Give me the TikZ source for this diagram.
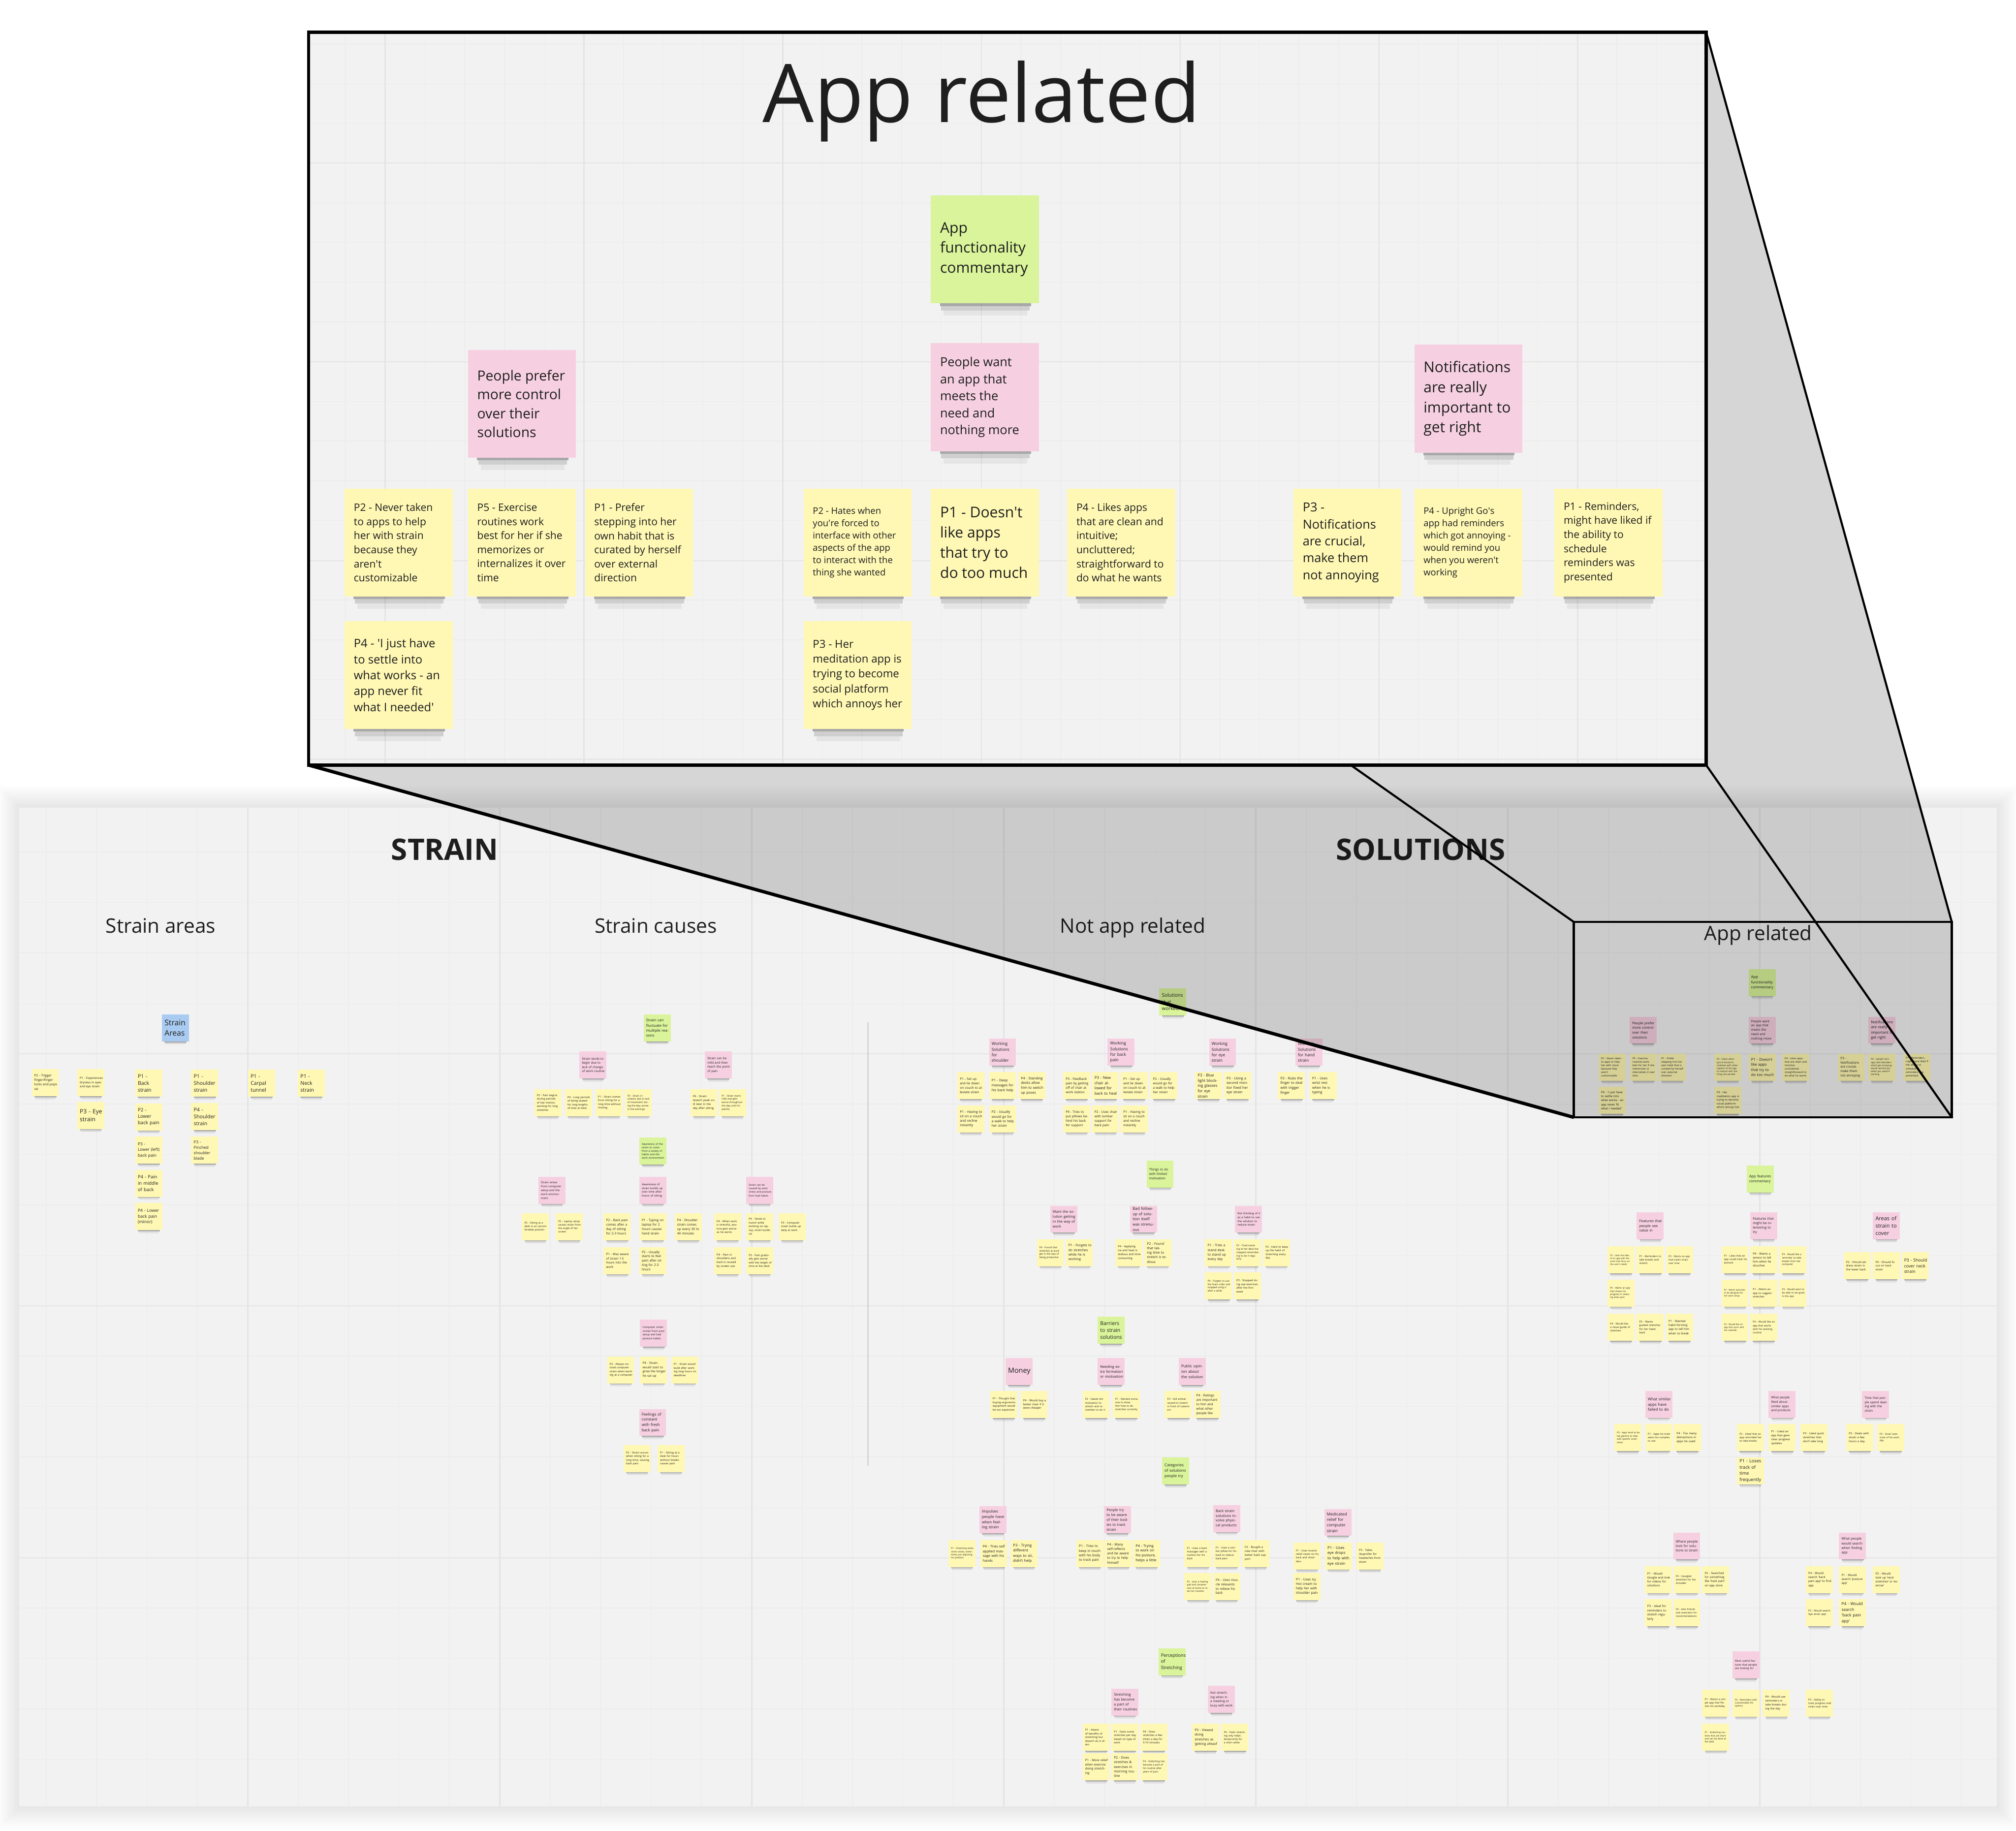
\documentclass[tikz,border=0pt]{standalone}
\usepackage{fontspec}
\setmainfont{Open Sans}
\definecolor{bgc}{HTML}{F2F2F2}
\definecolor{gmin}{HTML}{ECECEC}
\definecolor{gmaj}{HTML}{E4E4E4}
\definecolor{ink}{HTML}{1E1E1E}
\definecolor{yel}{HTML}{FFF8B4}
\definecolor{pnk}{HTML}{F6D0E0}
\definecolor{grn}{HTML}{D9F49A}
\definecolor{skyb}{HTML}{A9CBF2}
\newcommand\fszz[1]{\fontsize{#1}{\fpeval{1.36*#1}}\selectfont}
\newcommand\sq{\textquotesingle}
\tikzset{
  bnote/.style={rectangle, inner sep=0pt, minimum width=21pt, minimum height=21pt, draw=none},
  btext/.style={anchor=west, inner sep=0pt, text width=18pt, align=left, text=ink},
  pnote/.style={rectangle, inner sep=0pt, minimum width=84pt, minimum height=84pt, draw=none},
  ptext/.style={anchor=west, inner sep=0pt, align=left, text=ink},
  gminor/.style={draw=gmin, line width=0.6pt},
  gmajor/.style={draw=gmaj, line width=0.9pt},
  zthick/.style={draw=black, line width=2.6pt},
  zthin/.style={draw=black, line width=1.6pt},
  shA/.style={fill=black, fill opacity=0.30},
  shB/.style={fill=black, fill opacity=0.14},
  shC/.style={fill=black, fill opacity=0.05},
  headbold/.style={font=\fontsize{23}{26}\selectfont\bfseries, text=ink, anchor=base, inner sep=0pt},
  headreg/.style={font=\fontsize{15.5}{18}\selectfont, text=ink, anchor=base, inner sep=0pt},
}
% board sticky: name, x, y (top-left), colour, font size, text
\newcommand\bsk[6]{%
  \fill[shA] ({#2+2},{#3+20.5}) rectangle ({#2+19.2},{#3+21.6});
  \fill[shB] ({#2+2.4},{#3+21.6}) rectangle ({#2+18.8},{#3+22.5});
  \fill[shC] ({#2+3},{#3+22.5}) rectangle ({#2+18.2},{#3+23.5});
  \node[bnote,fill=#4] (#1) at ({#2+10.5},{#3+10.5}) {};
  \node[btext,font=\fszz{#5}] (#1t) at ({#2+1.8},{#3+10.5}) {#6};
}
% panel sticky
\newcommand\psk[6]{%
  \fill[shA] ({#2+7},{#3+82}) rectangle ({#2+78},{#3+86});
  \fill[shB] ({#2+8},{#3+86}) rectangle ({#2+77},{#3+89.5});
  \fill[shC] ({#2+10},{#3+89.5}) rectangle ({#2+75},{#3+93.5});
  \node[pnote,fill=#4] (#1) at ({#2+42},{#3+42}) {};
  \node[ptext,font=\fszz{#5}] (#1t) at ({#2+7},{#3+42}) {#6};
}
\begin{document}
\begin{tikzpicture}[x=1pt,y=-1pt]
\useasboundingbox (0,0) rectangle (1568,1424);
\fill[white] (0,0) rectangle (1568,1424);

% ---------------- board ----------------
\foreach \k in {1,...,12} {
  \fill[black, opacity=0.007] ({15-1.4*\k},{628-1.4*\k}) rectangle ({1553+1.4*\k},{1405+1.4*\k});
}
\fill[bgc] (15,628) rectangle (1553,1405);
\begin{scope}
  \clip (15,628) rectangle (1553,1405);
  \foreach \i in {0,...,38} { \draw[gminor] ({35.9+39.2*\i},628) -- ({35.9+39.2*\i},1405); }
  \foreach \i in {0,...,18} { \draw[gminor] (15,{662.7+39.2*\i}) -- (1553,{662.7+39.2*\i}); }
  \foreach \i in {0,...,6} { \draw[gmajor] ({192.7+196*\i},628) -- ({192.7+196*\i},1405); }
  \foreach \i in {0,...,2} { \draw[gmajor] (15,{819.5+196*\i}) -- (1553,{819.5+196*\i}); }
\end{scope}

\node[headbold] (hstrain) at (346,669) {STRAIN};
\node[headbold] (hsol) at (1105,669) {SOLUTIONS};
\node[headreg] (lareas) at (125,725.5) {Strain areas};
\node[headreg] (lcauses) at (510,725.5) {Strain causes};
\node[headreg] (lnotapp) at (881,725.5) {Not app related};
\node[headreg] (lapp) at (1367.5,731.5) {App related};

\coordinate (divA) at (675,795);
\coordinate (divB) at (675,1140);
\draw[gray!75, line width=0.6pt] (divA) -- (divB);

% strain areas
\bsk{sa0}{126}{789}{skyb}{6.0}{Strain\\Areas}
\bsk{sa1}{24.7}{831.5}{yel}{2.5}{P2 - Trigger finger/finger locks and pops up}
\bsk{sa2}{60.1}{831.5}{yel}{2.3}{P1 - Experiences dryness in eyes and eye strain}
\bsk{sa3}{60.1}{857}{yel}{4.6}{P3 - Eye\\strain}
\bsk{sa4}{105.2}{832}{yel}{4.0}{P1 -\\Back\\strain}
\bsk{sa5}{105.2}{858.2}{yel}{3.7}{P2 -\\Lower\\back pain}
\bsk{sa6}{105.2}{884}{yel}{3.2}{P3 -\\Lower (left)\\back pain}
\bsk{sa7}{105.2}{909.8}{yel}{3.6}{P4 - Pain\\in middle\\of back}
\bsk{sa8}{105.2}{935.7}{yel}{3.3}{P4 - Lower\\back pain\\(minor)}
\bsk{sa9}{148.7}{832}{yel}{4.0}{P1 -\\Shoulder\\strain}
\bsk{sa10}{148.7}{858}{yel}{4.0}{P4 -\\Shoulder\\strain}
\bsk{sa11}{148.7}{884}{yel}{3.1}{P3 -\\Pinched\\shoulder\\blade}
\bsk{sa12}{193}{832}{yel}{4.0}{P1 -\\Carpal\\tunnel}
\bsk{sa13}{231.7}{832}{yel}{4.0}{P1 -\\Neck\\strain}

% strain causes
\bsk{sc0}{500.6}{789}{grn}{2.9}{Strain can fluctuate for multiple reasons}
\bsk{sc1}{450.7}{817.8}{pnk}{2.4}{Strain tends to begin due to lack of change of work routine}
\bsk{sc2}{548.2}{817.8}{pnk}{2.4}{Strain can be mild and then reach the point of pain}
\bsk{sc3}{415.6}{847.1}{yel}{2.1}{P2 - Pain begins during periods of low motion, working for long stretches}
\bsk{sc4}{439.4}{847.1}{yel}{2.1}{P4 - Long periods of being seated for long lengths of time at desk}
\bsk{sc5}{463.2}{847.1}{yel}{2.1}{P1 - Strain comes from sitting for a long time without moving}
\bsk{sc6}{486}{847.1}{yel}{1.9}{P3 - Strain increases due to lack of movement during the day, worse in the evenings}
\bsk{sc7}{536.9}{847.1}{yel}{2.2}{P4 - Strain doesn't peak until later in the day after sitting}
\bsk{sc8}{559.3}{847.1}{yel}{1.9}{P1 - Strain starts mild and gets worse throughout the day until it's painful}
\bsk{sc9}{497.2}{884.7}{grn}{2.0}{Awareness of the strain to come from a variety of habits and the work environment}
\bsk{sc10}{418.8}{915.3}{pnk}{2.2}{Strain arises from computer setup and the work environment}
\bsk{sc11}{497.2}{915.3}{pnk}{2.2}{Awareness of strain builds up over time after hours of sitting}
\bsk{sc12}{580.4}{915.3}{pnk}{2.0}{Strain can be caused by work stress and posture from bad habits}
\bsk{sc13}{405.9}{943.6}{yel}{2.0}{P3 - Sitting at a desk in an uncomfortable position}
\bsk{sc14}{432.2}{943.6}{yel}{2.0}{P2 - Laptop setup causes strain from the angle of her screen}
\bsk{sc15}{469.5}{943.6}{yel}{2.5}{P2 - Back pain comes after a day of sitting for 2-3 hours}
\bsk{sc16}{497.2}{943.6}{yel}{2.5}{P1 - Typing on laptop for 2 hours causes hand strain}
\bsk{sc17}{524.7}{943.6}{yel}{2.5}{P4 - Shoulder strain comes up every 30 to 40 minutes}
\bsk{sc18}{555.4}{943.6}{yel}{2.1}{P4 - When work is stressful, posture gets worse as he works}
\bsk{sc19}{580.4}{943.6}{yel}{2.1}{P4 - Tends to hunch while working on laptop, strain builds up}
\bsk{sc20}{605.5}{943.6}{yel}{2.1}{P3 - Computer strain builds up daily at work}
\bsk{sc21}{469.5}{970}{yel}{2.4}{P1 - Was aware of strain 1-5 hours into the work}
\bsk{sc22}{497.2}{970}{yel}{2.5}{P2 - Usually starts to feel pain after sitting for 2-3 hours}
\bsk{sc23}{555.4}{970}{yel}{2.2}{P4 - Pain in shoulders and back is caused by screen use}
\bsk{sc24}{580.4}{970}{yel}{2.1}{P3 - Pain gradually gets worse with the length of time at the desk}
\bsk{sc25}{497.8}{1026.4}{pnk}{2.1}{Computer strain comes from poor setup and bad posture habits}
\bsk{sc26}{472.2}{1054.9}{yel}{2.1}{P3 - Always noticed computer strain when working at a computer}
\bsk{sc27}{497.8}{1054.9}{yel}{2.4}{P4 - Strain would start to grow the longer he sat up}
\bsk{sc28}{522}{1054.9}{yel}{2.1}{P1 - Strain would build after working long hours on deadlines}
\bsk{sc29}{497.1}{1095.8}{pnk}{3.0}{Feelings of constant with fresh back pain}
\bsk{sc30}{485}{1123.9}{yel}{2.1}{P2 - Strain occurs when sitting for a long time, causing back pain}
\bsk{sc31}{511.4}{1123.9}{yel}{2.1}{P1 - Sitting at a desk for hours without breaks causes pain}

% not app related
\bsk{na0}{901.7}{768.8}{grn}{3.8}{Solutions\\that\\worked}
\bsk{na1}{769.3}{807.8}{pnk}{3.2}{Working\\Solutions\\for\\shoulder}
\bsk{na2}{861.5}{807.8}{pnk}{3.2}{Working\\Solutions\\for back\\pain}
\bsk{na3}{940.4}{807.8}{pnk}{3.2}{Working\\Solutions\\for eye\\strain}
\bsk{na4}{1007.5}{807.8}{pnk}{3.2}{Working\\Solutions\\for hand\\strain}
\bsk{na5}{744.6}{833.9}{yel}{2.5}{P1 - Set up and lie down on couch to alleviate strain}
\bsk{na6}{769.3}{833.9}{yel}{2.7}{P1 - Deep massages for his back help}
\bsk{na7}{792.1}{833.9}{yel}{2.7}{P4 - Standing desks allow him to switch up poses}
\bsk{na8}{826.9}{833.9}{yel}{2.5}{P3 - Feedback pain by getting off of chair at work station}
\bsk{na9}{849.3}{833.9}{yel}{3.0}{P3 - New chair allowed for back to heal}
\bsk{na10}{871.7}{833.9}{yel}{2.5}{P1 - Set up and lie down on couch to alleviate strain}
\bsk{na11}{894.8}{833.9}{yel}{2.5}{P2 - Usually would go for a walk to help her strain}
\bsk{na12}{929.5}{833.9}{yel}{3.0}{P3 - Blue light blocking glasses for eye strain}
\bsk{na13}{952}{833.9}{yel}{2.7}{P3 - Using a second monitor fixed her eye strain}
\bsk{na14}{993.9}{833.9}{yel}{2.7}{P2 - Rubs the finger to deal with trigger finger}
\bsk{na15}{1018.6}{833.9}{yel}{2.7}{P1 - Uses wrist rest when he is typing}
\bsk{na16}{744.6}{859.7}{yel}{2.6}{P1 - Having to sit on a couch and recline instantly}
\bsk{na17}{769.3}{859.7}{yel}{2.6}{P2 - Usually would go for a walk to help her strain}
\bsk{na18}{826.9}{859.7}{yel}{2.5}{P4 - Tries to put pillows behind his back for support}
\bsk{na19}{849.3}{859.7}{yel}{2.5}{P2 - Uses chair with lumbar support for back pain}
\bsk{na20}{871.7}{859.7}{yel}{2.5}{P1 - Having to sit on a couch and recline instantly}
\bsk{na21}{891.8}{902.6}{grn}{2.5}{Things to do with limited motivation}
\bsk{na22}{816.8}{937.7}{pnk}{2.8}{Want the solution getting in the way of work}
\bsk{na23}{879}{937.7}{pnk}{3.0}{Bad follow-up of solution itself was strenuous}
\bsk{na24}{960.5}{937.7}{pnk}{2.2}{Not thinking of it as a habit to use the solution to reduce strain}
\bsk{na25}{806.4}{963.8}{yel}{1.9}{P4 - Found that stretches at work get in the way of being productive}
\bsk{na26}{829}{963.8}{yel}{2.6}{P1 - Forgets to do stretches while he is working}
\bsk{na27}{867.5}{963.8}{yel}{2.2}{P4 - Applying ice and heat is tedious and time consuming}
\bsk{na28}{890.1}{963.8}{yel}{2.6}{P2 - Found that taking time to stretch is tedious}
\bsk{na29}{937.3}{963.8}{yel}{2.6}{P1 - Tries a stand desk to stand up every day}
\bsk{na30}{959.7}{963.8}{yel}{1.9}{P2 - Tried standing at her desk but stopped remembering to do it regularly}
\bsk{na31}{982.3}{963.8}{yel}{2.1}{P2 - Hard to keep up the habit of stretching every day}
\bsk{na32}{937.3}{989.7}{yel}{1.9}{P4 - Forgets to use the foam roller and stopped using it after a while}
\bsk{na33}{959.7}{989.7}{yel}{2.1}{P3 - Stopped doing eye exercises after the first week}
\bsk{na34}{853.7}{1024.2}{grn}{4.0}{Barriers\\to strain\\solutions}
\bsk{na35}{782}{1056.2}{pnk}{5.5}{Money}
\bsk{na36}{853.7}{1056.2}{pnk}{2.8}{Needing extra formation or motivation}
\bsk{na37}{916.8}{1056.2}{pnk}{3.0}{Public opinion about the solution}
\bsk{na38}{770.1}{1081.9}{yel}{2.1}{P1 - Thought that buying ergonomic equipment would be too expensive}
\bsk{na39}{793.8}{1081.9}{yel}{2.2}{P4 - Would buy a better chair if it were cheaper}
\bsk{na40}{842}{1081.9}{yel}{2.0}{P2 - Needs the motivation to stretch and remember to do it}
\bsk{na41}{865.4}{1081.9}{yel}{2.0}{P1 - Wanted someone to show him how to do stretches correctly}
\bsk{na42}{905.9}{1081.9}{yel}{2.0}{P3 - Felt embarrassed to stretch in front of coworkers}
\bsk{na43}{928.5}{1081.9}{yel}{2.5}{P4 - Ratings are important to him and what other people like}
\bsk{na44}{903.8}{1133.6}{grn}{3.0}{Categories of solutions people try}
\bsk{na45}{761.7}{1171.5}{pnk}{3.0}{Impulses people have when feeling strain}
\bsk{na46}{858.7}{1171.5}{pnk}{2.8}{People try to be aware of their bodies to track strain}
\bsk{na47}{943.6}{1170.5}{pnk}{2.8}{Back strain solutions involve physical products}
\bsk{na48}{1030}{1173.5}{pnk}{3.2}{Medicated relief for computer strain}
\bsk{na49}{737.7}{1197.7}{yel}{1.8}{P1 - Stretching when strain arises, sometimes just adjusting his position}
\bsk{na50}{762.4}{1197.7}{yel}{2.7}{P4 - Tries self applied massage with his hands}
\bsk{na51}{786}{1197.7}{yel}{2.9}{P3 - Trying different ways to sit, didn't help}
\bsk{na52}{837.2}{1197.7}{yel}{2.6}{P1 - Tries to keep in touch with his body to track pain}
\bsk{na53}{859.2}{1197.7}{yel}{2.6}{P4 - Many self-reflects and be aware to try to help himself}
\bsk{na54}{881.3}{1197.7}{yel}{2.8}{P4 - Trying to work on his posture, helps a little}
\bsk{na55}{921.2}{1197.7}{yel}{2.0}{P1 - Uses a back massager with a cushion for his back}
\bsk{na56}{943.6}{1197.7}{yel}{2.0}{P1 - Uses a lumbar pillow for his back to reduce back pain}
\bsk{na57}{966.2}{1197.7}{yel}{2.2}{P2 - Bought a new chair with better back support}
\bsk{na58}{1006}{1199.7}{yel}{2.0}{P1 - Uses muscle relief cream on his back and shoulders}
\bsk{na59}{1030.5}{1199.7}{yel}{3.0}{P1 - Uses eye drops to help with eye strain}
\bsk{na60}{1055}{1199.7}{yel}{2.2}{P3 - Takes ibuprofen for headaches from strain}
\bsk{na61}{921.2}{1223.4}{yel}{1.8}{P2 - Uses a heating pad and compression at home to relax her muscles}
\bsk{na62}{943.6}{1223.4}{yel}{2.5}{P4 - Uses muscle relaxants to relieve his back}
\bsk{na63}{1006}{1223.4}{yel}{2.6}{P1 - Uses Icy Hot cream to help her with shoulder pain}
\bsk{na64}{901}{1282}{grn}{3.5}{Perceptions\\of\\Stretching}
\bsk{na65}{864.4}{1313.3}{pnk}{2.8}{Stretching has become a part of their routines}
\bsk{na66}{939.4}{1311.3}{pnk}{2.4}{Not stretching when in a meeting or busy with work}
\bsk{na67}{842}{1340.7}{yel}{2.1}{P1 - Aware of benefits of stretching but doesn't do it often}
\bsk{na68}{864.4}{1340.7}{yel}{2.1}{P1 - Does some stretches per day based on type of work}
\bsk{na69}{887}{1340.7}{yel}{2.1}{P4 - Does stretches a few times a day for 5-10 minutes}
\bsk{na70}{927.2}{1340.7}{yel}{2.6}{P3 - Viewed doing stretches as 'getting ahead'}
\bsk{na71}{949.9}{1340.7}{yel}{2.0}{P4 - Feels stretching only helps temporarily for a short while}
\bsk{na72}{842}{1363.7}{yel}{2.4}{P1 - More relief when exercise doing stretching}
\bsk{na73}{864.4}{1363.7}{yel}{2.6}{P2 - Does stretches \& exercises in morning routine}
\bsk{na74}{887}{1363.7}{yel}{1.9}{P4 - Stretching has become a part of his routine after years of pain}

% app features (right side)
\bsk{af0}{1358.5}{906.4}{grn}{2.8}{App features commentary}
\bsk{af1}{1273}{942.8}{pnk}{2.8}{Features that people see value in}
\bsk{af2}{1361.3}{942.8}{pnk}{2.6}{Features that might be interesting to try}
\bsk{af3}{1456.7}{942.8}{pnk}{4.2}{Areas of\\strain to\\cover}
\bsk{af4}{1250.3}{969.3}{yel}{1.7}{P2 - Likes the idea of an app with features that focus on the user's needs}
\bsk{af5}{1273}{969.3}{yel}{2.0}{P1 - Reminders to take breaks and stretch}
\bsk{af6}{1295.8}{969.3}{yel}{1.9}{P3 - Wants an app that tracks strain over time}
\bsk{af7}{1338.9}{969.3}{yel}{2.0}{P1 - Likes that an app could track his posture}
\bsk{af8}{1361.3}{969.3}{yel}{2.3}{P4 - Wants a sensor to tell him when he slouches}
\bsk{af9}{1384}{969.3}{yel}{1.9}{P3 - Would like a reminder to take breaks from her computer}
\bsk{af10}{1433.9}{974}{yel}{2.2}{P2 - Should address strain in the lower back}
\bsk{af11}{1456.7}{974}{yel}{2.2}{P4 - Should focus on back strain}
\bsk{af12}{1479}{974}{yel}{3.3}{P3 - Should\\cover neck\\strain}
\bsk{af13}{1250.3}{995.2}{yel}{1.8}{P4 - Wants an app that shows his progress in reducing back pain}
\bsk{af14}{1338.9}{995.2}{yel}{1.7}{P2 - Wants exercises to be designed for her work setup}
\bsk{af15}{1361.3}{995.2}{yel}{2.1}{P1 - Wants an app to suggest stretches}
\bsk{af16}{1384}{995.2}{yel}{1.9}{P3 - Would want to be able to set goals in the app}
\bsk{af17}{1250.3}{1021.8}{yel}{2.0}{P4 - Would like a visual guide of stretches}
\bsk{af18}{1273}{1021.8}{yel}{2.1}{P2 - Wants guided stretches for her lower back}
\bsk{af19}{1295.8}{1021.8}{yel}{2.3}{P1 - Wanted habit-forming app to tell him when to break}
\bsk{af20}{1338.9}{1021.8}{yel}{1.7}{P3 - Would like an app that syncs with her calendar}
\bsk{af21}{1361.3}{1021.8}{yel}{2.0}{P4 - Would like an app that works with his existing routine}
\bsk{af22}{1279.7}{1081.7}{pnk}{3.0}{What similar apps have failed to do}
\bsk{af23}{1375.6}{1081.7}{pnk}{2.4}{What people liked about similar apps and products}
\bsk{af24}{1448.3}{1081.7}{pnk}{2.4}{Time that people spend dealing with the strain}
\bsk{af25}{1255.6}{1107.6}{yel}{1.8}{P3 - Apps tend to be too generic to help with specific strain areas}
\bsk{af26}{1279.7}{1107.6}{yel}{2.0}{P1 - Apps he tried were too complex to use}
\bsk{af27}{1302}{1107.6}{yel}{2.3}{P4 - Too many distractions in apps he used}
\bsk{af28}{1351}{1107.6}{yel}{2.0}{P2 - Liked that an app reminded her to take breaks}
\bsk{af29}{1375.6}{1107.6}{yel}{2.2}{P1 - Liked an app that gave clear progress updates}
\bsk{af30}{1400.4}{1107.6}{yel}{2.2}{P3 - Liked quick stretches that don't take long}
\bsk{af31}{1436}{1107.6}{yel}{2.2}{P2 - Deals with strain a few hours a day}
\bsk{af32}{1460}{1107.6}{yel}{1.9}{P4 - Strain lasts most of his work day}
\bsk{af33}{1351}{1133.5}{yel}{3.5}{P1 - Loses\\track of\\time\\frequently}
\bsk{af34}{1301.4}{1191.9}{pnk}{2.6}{Where people look for solutions to strain}
\bsk{af35}{1430.3}{1191.9}{pnk}{2.6}{What people would search when finding app}
\bsk{af36}{1279.2}{1218}{yel}{2.3}{P1 - Would Google and look for videos for solutions}
\bsk{af37}{1301.4}{1218}{yel}{2.0}{P3 - Googled stretches for her shoulder}
\bsk{af38}{1323.9}{1218}{yel}{2.3}{P2 - Searched for something like 'back pain' on app store}
\bsk{af39}{1404.5}{1218}{yel}{2.3}{P4 - Would search 'back pain app' to find app}
\bsk{af40}{1430.3}{1218}{yel}{2.3}{P1 - Would search 'posture app'}
\bsk{af41}{1456.7}{1218}{yel}{2.3}{P2 - Would look up 'neck stretches' or 'exercise'}
\bsk{af42}{1279.2}{1243.9}{yel}{2.4}{P3 - Ideal for reminders to stretch regularly}
\bsk{af43}{1301.4}{1243.9}{yel}{1.9}{P4 - Asks friends and coworkers for recommendations}
\bsk{af44}{1404.5}{1243.9}{yel}{2.0}{P3 - Would search 'eye strain app'}
\bsk{af45}{1430.3}{1243.9}{yel}{3.2}{P4 - Would\\search\\\sq back pain\\app\sq}
\bsk{af46}{1347.4}{1284.4}{pnk}{2.1}{Most useful features that people are looking for}
\bsk{af47}{1323.9}{1314.1}{yel}{2.0}{P1 - Wants a simple app that fits into his workday}
\bsk{af48}{1347.4}{1314.1}{yel}{1.8}{P2 - Reminders with customizable frequency}
\bsk{af49}{1371}{1314.1}{yel}{2.2}{P4 - Would use reminders to take breaks during the day}
\bsk{af50}{1404.5}{1314.1}{yel}{2.0}{P3 - Ability to track progress and strain over time}
\bsk{af51}{1323.9}{1340.6}{yel}{1.8}{P1 - Stretching routines that are short and can be done at the desk}

% app related (small, on the board)
\bsk{ar0}{1360}{753.7}{grn}{2.9}{App\\functionality\\commentary}
\bsk{ar1}{1267.5}{790.7}{pnk}{2.7}{People prefer\\more control\\over their\\solutions}
\bsk{ar2}{1360}{790.7}{pnk}{2.45}{People want\\an app that\\meets the\\need and\\nothing more}
\bsk{ar3}{1453.2}{790.7}{pnk}{2.9}{Notifications\\are really\\important to\\get right}
\bsk{ar4}{1243.3}{819.5}{yel}{2.0}{P2 - Never taken\\to apps to help\\her with strain\\because they\\aren\sq t\\customizable}
\bsk{ar5}{1267.7}{819.5}{yel}{2.0}{P5 - Exercise\\routines work\\best for her if she\\memorizes or\\internalizes it over\\time}
\bsk{ar6}{1290.1}{819.5}{yel}{2.0}{P1 - Prefer\\stepping into her\\own habit that is\\curated by herself\\over external\\direction}
\bsk{ar7}{1333.3}{819.5}{yel}{1.75}{P2 - Hates when\\you\sq re forced to\\interface with other\\aspects of the app\\to interact with the\\thing she wanted}
\bsk{ar8}{1360}{819.5}{yel}{2.9}{P1 - Doesn\sq t\\like apps\\that try to\\do too much}
\bsk{ar9}{1386.1}{819.5}{yel}{2.0}{P4 - Likes apps\\that are clean and\\intuitive;\\uncluttered;\\straightforward to\\do what he wants}
\bsk{ar10}{1429.5}{819.5}{yel}{2.45}{P3 -\\Notifications\\are crucial,\\make them\\not annoying}
\bsk{ar11}{1453.2}{819.5}{yel}{1.75}{P4 - Upright Go\sq s\\app had reminders\\which got annoying -\\would remind you\\when you weren\sq t\\working}
\bsk{ar12}{1480.3}{819.5}{yel}{2.0}{P1 - Reminders,\\might have liked if\\the ability to\\schedule\\reminders was\\presented}
\bsk{ar13}{1243.3}{845.3}{yel}{2.3}{P4 - \sq I just have\\to settle into\\what works - an\\app never fit\\what I needed\sq}
\bsk{ar14}{1333.3}{845.3}{yel}{2.1}{P3 - Her\\meditation app is\\trying to become\\social platform\\which annoys her}

% ---------------- zoom callout ----------------
\coordinate (pTL) at (240,25);
\coordinate (pTR) at (1327,25);
\coordinate (pBR) at (1327,595);
\coordinate (pBL) at (240,595);
\coordinate (bTL) at (1224,717);
\coordinate (bTR) at (1518,717);
\coordinate (bBR) at (1518,869);
\coordinate (bBL) at (1224,869);
\fill[black, opacity=0.16] (pTL) -- (pTR) -- (bTR) -- (bBR) -- (bBL) -- (pBL) -- cycle;
\draw[zthin] (pTL) -- (bTL);
\draw[zthin] (pTR) -- (bTR);
\draw[zthin] (pBR) -- (bBR);
\draw[zthick] (pBL) -- (bBL);
\draw[black, line width=1.8pt] (bTL) rectangle (bBR);

% ---------------- magnified panel ----------------
\fill[bgc] (pTL) rectangle (pBR);
\begin{scope}
  \clip (pTL) rectangle (pBR);
  \foreach \i in {0,...,34} { \draw[gminor] ({268.7+30.9*\i},25) -- ({268.7+30.9*\i},595); }
  \foreach \i in {0,...,18} { \draw[gminor] (240,{34.1+30.9*\i}) -- (1327,{34.1+30.9*\i}); }
  \foreach \i in {0,...,6} { \draw[gmajor] ({299.6+154.6*\i},25) -- ({299.6+154.6*\i},595); }
  \foreach \i in {0,...,3} { \draw[gmajor] (240,{126.8+154.6*\i}) -- (1327,{126.8+154.6*\i}); }
\end{scope}

\node[font=\fontsize{63}{70}\selectfont, text=ink, anchor=base, inner sep=0pt] (ptitle) at (763.5,95) {App related};

\psk{pg1}{724}{152}{grn}{11.5}{App\\functionality\\commentary}
\psk{pp1}{364}{272}{pnk}{10.8}{People prefer\\more control\\over their\\solutions}
\psk{pp2}{724}{267}{pnk}{9.7}{People want\\an app that\\meets the\\need and\\nothing more}
\psk{pp3}{1100}{268}{pnk}{11.5}{Notifications\\are really\\important to\\get right}
\psk{py1}{268}{380}{yel}{8.05}{P2 - Never taken\\to apps to help\\her with strain\\because they\\aren\sq t\\customizable}
\psk{py2}{364}{380}{yel}{8.05}{P5 - Exercise\\routines work\\best for her if she\\memorizes or\\internalizes it over\\time}
\psk{py3}{455}{380}{yel}{8.05}{P1 - Prefer\\stepping into her\\own habit that is\\curated by herself\\over external\\direction}
\psk{py4}{625}{380}{yel}{7.05}{P2 - Hates when\\you\sq re forced to\\interface with other\\aspects of the app\\to interact with the\\thing she wanted}
\psk{py5}{724}{380}{yel}{11.5}{P1 - Doesn\sq t\\like apps\\that try to\\do too much}
\psk{py6}{830}{380}{yel}{8.05}{P4 - Likes apps\\that are clean and\\intuitive;\\uncluttered;\\straightforward to\\do what he wants}
\psk{py7}{1006}{380}{yel}{9.7}{P3 -\\Notifications\\are crucial,\\make them\\not annoying}
\psk{py8}{1100}{380}{yel}{7.05}{P4 - Upright Go\sq s\\app had reminders\\which got annoying -\\would remind you\\when you weren\sq t\\working}
\psk{py9}{1209}{380}{yel}{8.05}{P1 - Reminders,\\might have liked if\\the ability to\\schedule\\reminders was\\presented}
\psk{py10}{268}{483}{yel}{9.1}{P4 - \sq I just have\\to settle into\\what works - an\\app never fit\\what I needed\sq}
\psk{py11}{625}{483}{yel}{8.5}{P3 - Her\\meditation app is\\trying to become\\social platform\\which annoys her}

\draw[black, line width=2.6pt] (pTL) rectangle (pBR);
\end{tikzpicture}
\end{document}
